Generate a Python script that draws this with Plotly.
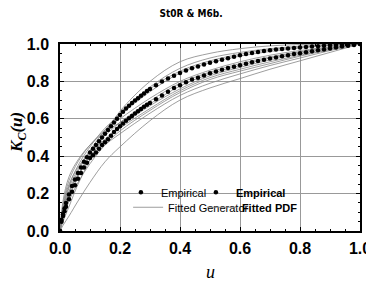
import plotly.graph_objects as go

# Empirical Kendall distribution points
u_emp = [0, 0.005, 0.01, 0.015, 0.02, 0.03, 0.04, 0.05, 0.06, 0.07, 0.08, 0.09, 0.10,
         0.11, 0.12, 0.13, 0.14, 0.15, 0.16, 0.17, 0.18, 0.19, 0.20,
         0.21, 0.22, 0.23, 0.24, 0.25, 0.26, 0.27, 0.28, 0.29, 0.30,
         0.32, 0.34, 0.36, 0.38, 0.40, 0.42, 0.44, 0.46, 0.48, 0.50,
         0.52, 0.54, 0.56, 0.58, 0.60, 0.62, 0.64, 0.66, 0.68, 0.70,
         0.72, 0.74, 0.76, 0.78, 0.80, 0.82, 0.84, 0.86, 0.88, 0.90,
         0.92, 0.94, 0.96, 0.98, 1.0]
emp_upper = [0, 0.06, 0.09, 0.12, 0.15, 0.195, 0.24, 0.275, 0.31, 0.34, 0.37, 0.395, 0.42,
             0.44, 0.46, 0.48, 0.50, 0.52, 0.54, 0.56, 0.58, 0.60, 0.62,
             0.638, 0.655, 0.67, 0.685, 0.698, 0.71, 0.723, 0.735, 0.748, 0.76,
             0.78, 0.80, 0.815, 0.83, 0.845, 0.858, 0.87, 0.88, 0.89, 0.90,
             0.908, 0.916, 0.924, 0.932, 0.94, 0.946, 0.952, 0.957, 0.962, 0.966,
             0.97, 0.973, 0.976, 0.979, 0.981, 0.984, 0.986, 0.988, 0.99, 0.992,
             0.994, 0.996, 0.997, 0.999, 1.0]
emp_lower = [0, 0.05, 0.08, 0.105, 0.13, 0.17, 0.21, 0.245, 0.28, 0.31, 0.34, 0.365, 0.39,
             0.405, 0.42, 0.44, 0.46, 0.475, 0.49, 0.51, 0.53, 0.545, 0.56,
             0.575, 0.59, 0.603, 0.615, 0.628, 0.64, 0.653, 0.665, 0.675, 0.685,
             0.705, 0.725, 0.745, 0.765, 0.78, 0.795, 0.81, 0.82, 0.832, 0.843,
             0.853, 0.862, 0.871, 0.879, 0.887, 0.895, 0.902, 0.909, 0.916, 0.922,
             0.928, 0.934, 0.94, 0.946, 0.951, 0.956, 0.961, 0.966, 0.971, 0.976,
             0.981, 0.986, 0.99, 0.995, 1.0]

# Fitted generator curves
u_fit = [0, 0.01, 0.03, 0.06, 0.1, 0.15, 0.2, 0.3, 0.4, 0.5, 0.6, 0.7, 0.8, 0.9, 1.0]
fit_curves = [
    [0, 0.05, 0.13, 0.25, 0.38, 0.52, 0.64, 0.80, 0.905, 0.95, 0.975, 0.99, 0.997, 0.999, 1],
    [0, 0.08, 0.18, 0.29, 0.41, 0.53, 0.63, 0.77, 0.87, 0.925, 0.955, 0.975, 0.988, 0.996, 1],
    [0, 0.10, 0.21, 0.32, 0.43, 0.54, 0.625, 0.76, 0.855, 0.91, 0.945, 0.97, 0.984, 0.994, 1],
    [0, 0.12, 0.24, 0.35, 0.45, 0.55, 0.62, 0.745, 0.845, 0.90, 0.935, 0.96, 0.978, 0.992, 1],
    [0, 0.14, 0.27, 0.37, 0.46, 0.54, 0.60, 0.71, 0.80, 0.86, 0.905, 0.94, 0.965, 0.985, 1],
    [0, 0.11, 0.23, 0.33, 0.43, 0.51, 0.58, 0.695, 0.79, 0.85, 0.895, 0.93, 0.958, 0.982, 1],
    [0, 0.16, 0.29, 0.38, 0.46, 0.53, 0.58, 0.68, 0.775, 0.84, 0.885, 0.925, 0.955, 0.98, 1],
    [0, 0.09, 0.20, 0.30, 0.40, 0.49, 0.56, 0.67, 0.76, 0.83, 0.875, 0.915, 0.948, 0.976, 1],
    [0, 0.13, 0.25, 0.34, 0.42, 0.49, 0.55, 0.655, 0.75, 0.82, 0.865, 0.905, 0.94, 0.972, 1],
    [0, 0.07, 0.16, 0.26, 0.36, 0.46, 0.535, 0.645, 0.74, 0.81, 0.855, 0.895, 0.935, 0.97, 1],
    [0, 0.10, 0.21, 0.30, 0.38, 0.46, 0.52, 0.63, 0.725, 0.79, 0.84, 0.885, 0.925, 0.965, 1],
    [0, 0.03, 0.08, 0.16, 0.26, 0.37, 0.45, 0.59, 0.70, 0.765, 0.815, 0.865, 0.91, 0.955, 1],
]

tick_vals = [0, 0.2, 0.4, 0.6, 0.8, 1.0]
tick_text = ["0.0", "0.2", "0.4", "0.6", "0.8", "1.0"]

GRAY = "#858585"
fig = go.Figure()

for i, ys in enumerate(fit_curves):
    fig.add_trace(go.Scatter(x=u_fit, y=ys, mode="lines", line=dict(color=GRAY, width=0.8, shape="spline"),
                             name="Fitted Generator", showlegend=(i == 0), legend="legend3"))

fig.add_trace(go.Scatter(x=u_emp, y=emp_upper, mode="markers", marker=dict(color="black", size=4.5),
                         name="Empirical", showlegend=True, legend="legend"))
fig.add_trace(go.Scatter(x=u_emp, y=emp_lower, mode="markers", marker=dict(color="black", size=4.5),
                         name="<b>Empirical</b>", showlegend=True, legend="legend2"))
fig.add_trace(go.Scatter(x=[None], y=[None], mode="lines", line=dict(color=GRAY, width=0.8),
                         name="<b>Fitted PDF</b>", showlegend=True, legend="legend4"))

axis_common = dict(range=[0, 1], tickvals=tick_vals, ticktext=tick_text, showgrid=True, gridcolor="#999999",
                   gridwidth=1, showline=True, linecolor="black", linewidth=1.5, mirror="ticks",
                   ticks="inside", ticklen=4, tickcolor="black", automargin=False,
                   minor=dict(dtick=0.05, ticks="inside", ticklen=2, tickcolor="black", showgrid=False),
                   tickfont=dict(family="Liberation Sans", size=16, color="black", weight="bold"),
                   zeroline=False)


def leg(xp, yp):
    return dict(x=xp, y=yp, xanchor="left", yanchor="middle", bgcolor="rgba(0,0,0,0)",
                font=dict(family="Liberation Sans", size=11, color="black"), itemwidth=30,
                tracegroupgap=0, borderwidth=0)


# the page body adds an 8px margin, so the figure is sized 8px smaller
fig.update_layout(
    width=366, height=281,
    margin=dict(l=52, r=14, t=36, b=58),
    paper_bgcolor="white", plot_bgcolor="white",
    title=dict(text="<b>St0R & M6b.</b>", x=0.5, xanchor="center", y=0.979, yanchor="middle",
               font=dict(family="Liberation Sans Narrow, DejaVu Sans Condensed", size=10, color="black")),
    xaxis=dict(axis_common, ticklabelstandoff=2),
    yaxis=dict(axis_common, ticklabelstandoff=6),
    legend=leg(0.203, 0.207),
    legend2=leg(0.453, 0.207),
    legend3=leg(0.227, 0.127),
    legend4=leg(0.473, 0.127),
    annotations=[
        dict(text="<i>u</i>", xref="paper", yref="paper", x=0.5, y=-0.221, xanchor="center", yanchor="middle",
             showarrow=False, font=dict(family="Liberation Serif", size=18, color="black")),
        dict(text="<b><i>K<sub>C</sub>(u)</i></b>", xref="paper", yref="paper", x=-0.14, y=0.53,
             xanchor="center", yanchor="middle", textangle=-90, showarrow=False,
             font=dict(family="Liberation Serif", size=17, color="black")),
    ],
)

fig.write_html("out.html")
